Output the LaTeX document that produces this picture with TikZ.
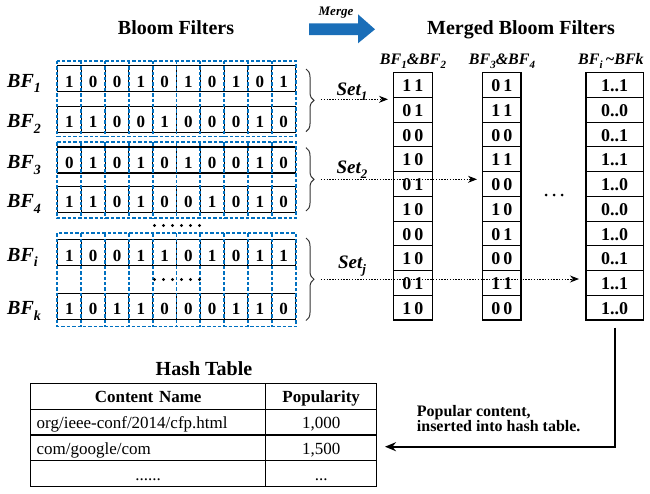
\documentclass[tikz,border=0pt]{standalone}
\usepackage{fontspec}
\setmainfont{Liberation Serif}
\usetikzlibrary{decorations.pathreplacing,arrows.meta,calc}
\definecolor{bfblue}{RGB}{0,112,192}
\definecolor{mergeblue}{RGB}{26,110,184}
\newcommand\fsz[1]{\fontsize{#1}{#1}\selectfont}
\newcommand\subx[2]{\raisebox{-0.28em}{\fontsize{#1}{#1}\selectfont #2}}
\begin{document}
\begin{tikzpicture}[x=1pt,y=-1pt,
  title/.style={font=\fsz{20}\bfseries, anchor=base, inner sep=0pt},
  bflab/.style={font=\fsz{20}\bfseries\itshape, anchor=base west, inner sep=0pt},
  hdr/.style={font=\fsz{16}\bfseries\itshape, anchor=base, inner sep=0pt},
  setlab/.style={font=\fsz{19}\bfseries\itshape, anchor=base, inner sep=0pt},
  cell/.style={draw=black, line width=1.1pt, minimum width=23.8pt, minimum height=26pt,
    inner sep=0pt, text height=17pt, text depth=0pt, font=\fsz{17}\bfseries},
  mcell/.style={draw=black, line width=1.1pt, minimum height=24.73pt,
    inner sep=0pt, text height=13.4pt, text depth=0pt, font=\fsz{18}\bfseries},
  bfdash/.style={draw=bfblue, line width=1.8pt, dash pattern=on 3.4pt off 2pt},
  bracestyle/.style={draw=black!80, line width=1pt, decorate,
    decoration={brace, amplitude=8pt}},
  dotarrow/.style={draw=black, line width=1pt, dash pattern=on 1.4pt off 1.4pt,
    -{Stealth[length=9pt,width=7pt]}},
  tcell/.style={draw=black, line width=1.1pt, minimum height=25.85pt, inner ysep=0pt,
    inner xsep=6pt, text height=12.5pt, text depth=0pt, font=\fsz{17}},
  poparrow/.style={draw=black, line width=1.8pt, -{Stealth[length=11pt,width=9pt]}},
  dotfill/.style={fill=black}
]
\useasboundingbox (0,0) rectangle (650,493);

% titles
\node[title] (tbf) at (176,34) {Bloom Filters};
\node[title] (tmbf) at (521,34.5) {Merged Bloom Filters};
\node[font=\fsz{13}\bfseries\itshape, anchor=base, inner sep=0pt] (merge) at (336,15.5) {Merge};
\fill[mergeblue] (309,23.3) -- (358,23.3) -- (358,14.3) -- (375,29.3) -- (358,43.3) -- (358,35) -- (309,35) -- cycle;

% bloom filter rows
\foreach \r/\y/\vals/\lab in {
  1/78.7/{1,0,0,1,0,1,0,1,0,1}/1,
  2/119.2/{1,1,0,0,1,0,0,0,1,0}/2,
  3/160/{0,1,0,1,0,1,0,0,1,0}/3,
  4/199.4/{1,1,0,1,0,0,1,0,1,0}/4,
  5/252.5/{1,0,0,1,1,0,1,0,1,1}/i,
  6/306.3/{1,0,1,1,0,0,0,1,1,0}/k}{
  \foreach \v [count=\c] in \vals {
    \node[cell] (g\r-\c) at ({57.5+23.8*(\c-0.5)},\y) {\v};
  }
  \node[bflab] (lab\r) at (7,{\y+8.5}) {BF\subx{14}{\lab}};
}

% blue dashed groups
\foreach \gt/\gb in {60.7/136.5, 142.2/218.3, 233.3/326.5}{
  \draw[bfdash] (57.3,\gt) rectangle (296,\gb);
  \foreach \k in {1,...,9}{
    \draw[bfdash] ({57.5+23.8*\k},\gt) -- ({57.5+23.8*\k},\gb);
  }
}

% dots
\foreach \k in {0,...,5}{
  \fill[dotfill] ({154.5+9*\k},225.5) circle (1.7pt);
  \fill[dotfill] ({154.5+9*\k},279.5) circle (1.7pt);
}

% braces
\draw[bracestyle] (306,69) -- (306,131.7);
\draw[bracestyle] (306,147.7) -- (306,211);
\draw[bracestyle] (306,238) -- (306,320.5);

% merged columns
\foreach \col/\cx/\w/\vals in {
  1/412.8/39/{1\,1,0\,1,0\,0,1\,0,0\,1,1\,0,0\,0,1\,0,0\,1,1\,0},
  2/501.85/38.3/{0\,1,1\,1,0\,0,1\,1,0\,0,1\,0,0\,1,0\,0,1\,1,0\,0},
  3/614.65/57.3/{1..1,0..0,0..1,1..1,1..0,0..0,1..0,0..1,1..1,1..0}}{
  \foreach \v [count=\r] in \vals {
    \node[mcell, minimum width=\w pt] (m\col-\r) at (\cx,{72.7+24.73*(\r-0.5)}) {\v};
  }
}

% column headers
\node[hdr] (h1) at (413,64) {BF\subx{11}{1}\&BF\subx{11}{2}};
\node[hdr] (h2) at (502,64) {BF\subx{11}{3}\&BF\subx{11}{4}};
\node[hdr, anchor=base west] (h3) at (578,64) {BF\subx{11}{i}\,\textasciitilde BFk};

% between-columns dots
\foreach \k in {0,...,2}{
  \fill[dotfill] ({546+8*\k},195) circle (1.5pt);
}

% set labels and arrows
\node[setlab] (set1) at (352,95) {Set\subx{13}{1}};
\node[setlab] (set2) at (352,173.3) {Set\subx{13}{2}};
\node[setlab] (setj) at (352,268) {Set\subx{13}{j}};
\coordinate (s1a) at (321,99.3);
\coordinate (s1b) at (388,99.3);
\coordinate (s2a) at (321,179.3);
\coordinate (s2b) at (477,179.3);
\coordinate (sja) at (321,279);
\coordinate (sjb) at (579,279);
\draw[dotarrow] (s1a) -- (s1b);
\draw[dotarrow] (s2a) -- (s2b);
\draw[dotarrow] (sja) -- (sjb);

% hash table
\node[title] (ht) at (204,375) {Hash Table};
\foreach \r/\al/\a/\b in {1/center/{\bfseries Content Name}/{\bfseries Popularity},
  2/left/{org/ieee-conf/2014/cfp.html}/{1,000},
  3/left/{com/google/com}/{1,500},
  4/center/{......}/{...}}{
  \node[tcell, text width=223pt, align=\al] (t\r-1) at (148.2,{383.3+25.85*(\r-0.5)}) {\a};
  \node[tcell, text width=99pt, align=center] (t\r-2) at (321.2,{383.3+25.85*(\r-0.5)}) {\b};
}

% popular arrow
\coordinate (pa) at ($(m3-10.south)+(0,7)$);
\coordinate (pb) at (614.65,446.7);
\coordinate (pc) at (385,446.7);
\draw[poparrow] (pa) -- (pb) -- (pc);
\node[font=\fsz{16}\bfseries, anchor=base west, inner sep=0pt] (pop1) at (416.7,416) {Popular content,};
\node[font=\fsz{16}\bfseries, anchor=base west, inner sep=0pt] (pop2) at (416.7,431.5) {inserted into hash table.};
\end{tikzpicture}
\end{document}
